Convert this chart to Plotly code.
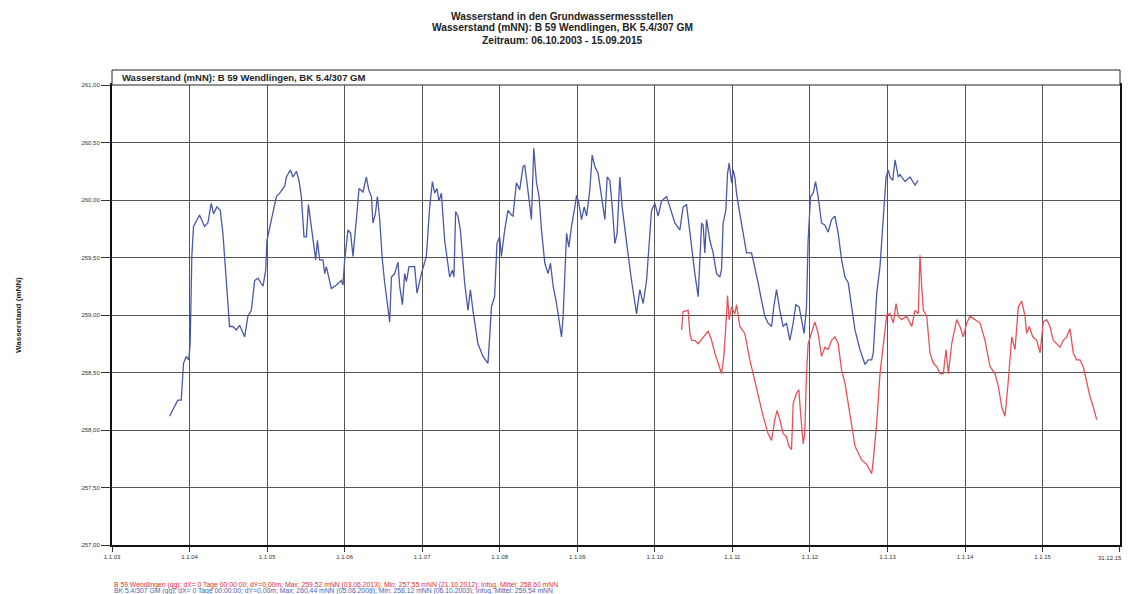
import pandas as pd
import plotly.graph_objects as go

# ---- data (decimal years, water level in mNN) ----
blue_t = [2003.742, 2003.849, 2003.893, 2003.923, 2003.957, 2003.991, 2004.009, 2004.030, 2004.052, 2004.086,
          2004.129, 2004.194, 2004.236, 2004.280, 2004.310, 2004.352, 2004.396, 2004.430, 2004.474, 2004.516,
          2004.559, 2004.603, 2004.645, 2004.710, 2004.752, 2004.796, 2004.839, 2004.881, 2004.946, 2004.981,
          2004.997, 2005.054, 2005.119, 2005.161, 2005.226, 2005.248, 2005.299, 2005.333, 2005.377, 2005.410,
          2005.441, 2005.475, 2005.506, 2005.532, 2005.557, 2005.591, 2005.626, 2005.648, 2005.677, 2005.720,
          2005.742, 2005.764, 2005.806, 2005.828, 2005.893, 2005.957, 2005.978, 2006.000, 2006.043, 2006.077,
          2006.107, 2006.129, 2006.151, 2006.185, 2006.236, 2006.280, 2006.310, 2006.345, 2006.365, 2006.396,
          2006.422, 2006.452, 2006.486, 2006.516, 2006.551, 2006.581, 2006.603, 2006.645, 2006.688, 2006.710,
          2006.745, 2006.774, 2006.796, 2006.830, 2006.903, 2006.933, 2006.990, 2007.054, 2007.097, 2007.132,
          2007.161, 2007.191, 2007.217, 2007.248, 2007.290, 2007.333, 2007.355, 2007.390, 2007.410, 2007.432,
          2007.462, 2007.493, 2007.548, 2007.591, 2007.622, 2007.655, 2007.720, 2007.785, 2007.849, 2007.871,
          2007.893, 2007.935, 2007.965, 2008.000, 2008.022, 2008.065, 2008.107, 2008.151, 2008.172, 2008.215,
          2008.258, 2008.301, 2008.323, 2008.352, 2008.387, 2008.409, 2008.439, 2008.474, 2008.507, 2008.538,
          2008.581, 2008.623, 2008.654, 2008.688, 2008.732, 2008.774, 2008.796, 2008.817, 2008.839, 2008.861,
          2008.890, 2008.925, 2008.968, 2008.990, 2009.019, 2009.054, 2009.088, 2009.119, 2009.161, 2009.191,
          2009.226, 2009.268, 2009.312, 2009.355, 2009.385, 2009.419, 2009.454, 2009.484, 2009.513, 2009.548,
          2009.578, 2009.613, 2009.643, 2009.699, 2009.764, 2009.806, 2009.849, 2009.893, 2009.926, 2009.957,
          2010.000, 2010.043, 2010.086, 2010.151, 2010.194, 2010.258, 2010.323, 2010.365, 2010.409, 2010.443,
          2010.474, 2010.516, 2010.559, 2010.603, 2010.623, 2010.645, 2010.667, 2010.710, 2010.752, 2010.796,
          2010.839, 2010.861, 2010.881, 2010.916, 2010.938, 2010.959, 2010.990, 2011.010, 2011.032, 2011.054,
          2011.097, 2011.139, 2011.183, 2011.248, 2011.290, 2011.333, 2011.376, 2011.419, 2011.461, 2011.506,
          2011.535, 2011.570, 2011.613, 2011.655, 2011.699, 2011.742, 2011.785, 2011.819, 2011.862, 2011.893,
          2011.926, 2011.957, 2011.978, 2012.009, 2012.043, 2012.074, 2012.107, 2012.151, 2012.194, 2012.236,
          2012.280, 2012.323, 2012.365, 2012.409, 2012.452, 2012.494, 2012.538, 2012.581, 2012.645, 2012.710,
          2012.752, 2012.796, 2012.817, 2012.861, 2012.903, 2012.946, 2012.981, 2013.010, 2013.032, 2013.067,
          2013.097, 2013.139, 2013.161, 2013.226, 2013.290, 2013.355, 2013.394]
blue_v = [258.12, 258.26, 258.26, 258.58, 258.64, 258.61, 258.76, 259.51, 259.77, 259.81,
          259.87, 259.77, 259.80, 259.97, 259.88, 259.94, 259.91, 259.71, 259.25, 258.90,
          258.90, 258.87, 258.91, 258.81, 258.99, 259.04, 259.30, 259.32, 259.25, 259.39,
          259.65, 259.83, 260.03, 260.06, 260.12, 260.20, 260.26, 260.20, 260.25, 260.17,
          260.03, 259.68, 259.68, 259.96, 259.83, 259.65, 259.48, 259.65, 259.48, 259.48,
          259.36, 259.42, 259.28, 259.23, 259.26, 259.30, 259.26, 259.48, 259.74, 259.71,
          259.51, 259.65, 259.83, 260.10, 260.07, 260.20, 260.09, 260.03, 259.80, 259.88,
          260.03, 259.83, 259.48, 259.28, 259.07, 258.94, 259.33, 259.36, 259.46, 259.25,
          259.09, 259.36, 259.29, 259.42, 259.42, 259.19, 259.36, 259.51, 259.94, 260.16,
          260.06, 260.10, 259.99, 260.06, 259.65, 259.45, 259.33, 259.39, 259.33, 259.90,
          259.86, 259.74, 259.28, 259.04, 259.22, 259.04, 258.75, 258.64, 258.58, 258.81,
          259.07, 259.16, 259.62, 259.68, 259.51, 259.74, 259.91, 259.87, 259.86, 260.15,
          260.09, 260.29, 260.30, 260.15, 259.94, 259.83, 260.45, 260.15, 260.03, 259.74,
          259.45, 259.36, 259.45, 259.25, 259.10, 258.90, 258.81, 258.99, 259.39, 259.71,
          259.59, 259.77, 259.94, 260.04, 259.97, 259.83, 259.94, 259.86, 260.09, 260.39,
          260.29, 260.23, 260.03, 259.83, 260.20, 260.17, 259.91, 259.62, 259.71, 260.20,
          259.94, 259.77, 259.59, 259.30, 259.01, 259.22, 259.10, 259.30, 259.65, 259.91,
          259.97, 259.86, 259.99, 260.03, 259.94, 259.80, 259.74, 259.94, 259.96, 259.77,
          259.57, 259.36, 259.16, 259.80, 259.78, 259.54, 259.83, 259.65, 259.54, 259.36,
          259.33, 259.40, 259.80, 259.91, 260.23, 260.32, 260.15, 260.26, 260.20, 260.06,
          259.88, 259.71, 259.54, 259.54, 259.42, 259.28, 259.13, 258.99, 258.93, 258.90,
          259.07, 259.22, 259.04, 258.90, 258.93, 258.78, 258.93, 259.09, 259.07, 258.96,
          258.84, 259.07, 259.65, 260.03, 260.06, 260.16, 260.03, 259.80, 259.78, 259.72,
          259.83, 259.86, 259.71, 259.48, 259.33, 259.28, 259.07, 258.87, 258.70, 258.57,
          258.61, 258.61, 258.67, 259.19, 259.42, 259.86, 260.20, 260.26, 260.20, 260.17,
          260.35, 260.20, 260.22, 260.16, 260.20, 260.13, 260.17]

red_t = [2010.345, 2010.365, 2010.430, 2010.452, 2010.474, 2010.516, 2010.559, 2010.623, 2010.688, 2010.732,
         2010.774, 2010.861, 2010.890, 2010.916, 2010.938, 2010.959, 2010.990, 2011.032, 2011.054, 2011.097,
         2011.161, 2011.226, 2011.312, 2011.397, 2011.461, 2011.506, 2011.548, 2011.578, 2011.613, 2011.655,
         2011.699, 2011.729, 2011.764, 2011.785, 2011.828, 2011.858, 2011.884, 2011.914, 2011.935, 2011.957,
         2011.978, 2012.022, 2012.065, 2012.107, 2012.151, 2012.194, 2012.236, 2012.280, 2012.323, 2012.365,
         2012.409, 2012.452, 2012.494, 2012.538, 2012.581, 2012.623, 2012.667, 2012.732, 2012.796, 2012.817,
         2012.861, 2012.903, 2012.946, 2012.990, 2013.032, 2013.075, 2013.110, 2013.139, 2013.183, 2013.248,
         2013.312, 2013.355, 2013.397, 2013.419, 2013.441, 2013.462, 2013.506, 2013.548, 2013.591, 2013.635,
         2013.677, 2013.720, 2013.755, 2013.785, 2013.828, 2013.893, 2013.935, 2013.978, 2014.022, 2014.065,
         2014.129, 2014.194, 2014.258, 2014.323, 2014.387, 2014.430, 2014.474, 2014.516, 2014.559, 2014.603,
         2014.645, 2014.688, 2014.732, 2014.774, 2014.796, 2014.830, 2014.874, 2014.925, 2014.968, 2015.010,
         2015.054, 2015.097, 2015.139, 2015.183, 2015.226, 2015.268, 2015.312, 2015.355, 2015.397, 2015.441,
         2015.484, 2015.526, 2015.570, 2015.613, 2015.655, 2015.699]
red_v = [258.87, 259.03, 259.04, 258.84, 258.78, 258.78, 258.75, 258.81, 258.86, 258.78,
         258.67, 258.49, 258.64, 258.90, 259.17, 258.96, 259.07, 259.01, 259.09, 258.90,
         258.84, 258.61, 258.35, 258.12, 257.97, 257.91, 258.09, 258.17, 258.09, 257.97,
         257.94, 257.86, 257.83, 258.23, 258.32, 258.35, 258.12, 257.88, 257.97, 258.49,
         258.75, 258.84, 258.94, 258.84, 258.64, 258.72, 258.70, 258.78, 258.81, 258.75,
         258.52, 258.41, 258.23, 258.03, 257.86, 257.80, 257.74, 257.70, 257.62, 257.74,
         258.06, 258.49, 258.75, 259.00, 259.01, 258.93, 259.10, 258.99, 258.96, 258.99,
         258.90, 259.04, 259.01, 259.52, 259.25, 259.04, 258.99, 258.67, 258.58, 258.55,
         258.49, 258.49, 258.70, 258.49, 258.75, 258.96, 258.90, 258.81, 258.93, 258.99,
         258.96, 258.93, 258.78, 258.55, 258.49, 258.38, 258.20, 258.12, 258.43, 258.81,
         258.70, 259.07, 259.12, 258.99, 258.84, 258.90, 258.81, 258.78, 258.67, 258.94,
         258.96, 258.90, 258.78, 258.75, 258.72, 258.78, 258.81, 258.88, 258.67, 258.61,
         258.61, 258.55, 258.41, 258.29, 258.20, 258.09]

x_tick_dates = ["2003-01-01", "2004-01-01", "2005-01-01", "2006-01-01", "2007-01-01", "2008-01-01",
                "2009-01-01", "2010-01-01", "2011-01-01", "2012-01-01", "2013-01-01", "2014-01-01",
                "2015-01-01", "2015-12-31"]
x_tick_text = ["1.1.03", "1.1.04", "1.1.05", "1.1.06", "1.1.07", "1.1.08", "1.1.09", "1.1.10",
               "1.1.11", "1.1.12", "1.1.13", "1.1.14", "1.1.15", "31.12.15"]
y_ticks = [257.0, 257.5, 258.0, 258.5, 259.0, 259.5, 260.0, 260.5, 261.0]

title_lines = ["Wasserstand in den Grundwassermessstellen",
               "Wasserstand (mNN): B 59 Wendlingen, BK 5.4/307 GM",
               "Zeitraum: 06.10.2003 - 15.09.2015"]
header_text = "Wasserstand (mNN): B 59 Wendlingen, BK 5.4/307 GM"
y_title = "Wasserstand (mNN)"
footer_red = ("B 59 Wendlingen (qg): dX= 0 Tage 00:00:00; dY=0,00m; Max: 259,52 mNN (03.06.2013); "
              "Min: 257,55 mNN (21.10.2012); Infog. Mittel: 258,60 mNN")
footer_blue = ("BK 5.4/307 GM (qg): dX= 0 Tage 00:00:00; dY=0,00m; Max: 260,44 mNN (05.06.2008); "
               "Min: 258,12 mNN (06.10.2003); Infog. Mittel: 259,54 mNN")


def to_dates(ts):
    out = []
    for t in ts:
        y = int(t)
        start = pd.Timestamp(year=y, month=1, day=1)
        days = (pd.Timestamp(year=y + 1, month=1, day=1) - start).days
        out.append(start + pd.Timedelta(days=(t - y) * days))
    return out


BLUE = "#4a58a6"
RED = "#e5525c"
FONT = "Arial, Liberation Sans, sans-serif"

# page is drawn with an 8px body margin, so the figure is 8px smaller than the window
W, H = 1124, 586
ML, MR, MT, MB = 104, 12, 77, 49
PH = H - MT - MB  # plot height in px
PW = W - ML - MR  # plot width in px

fig = go.Figure()
fig.add_trace(go.Scatter(x=to_dates(blue_t), y=blue_v, mode="lines",
                         line=dict(color=BLUE, width=1.3), name="BK 5.4/307 GM"))
fig.add_trace(go.Scatter(x=to_dates(red_t), y=red_v, mode="lines",
                         line=dict(color=RED, width=1.3), name="B 59 Wendlingen"))

fig.update_layout(
    width=W, height=H,
    margin=dict(l=ML, r=MR, t=MT, b=MB, autoexpand=False),
    paper_bgcolor="white", plot_bgcolor="white",
    showlegend=False,
    separators=",.",
    font=dict(family=FONT, color="#222"),
)
# last tick label is drawn as an annotation so it is not clipped at the right edge
shown_tick_text = x_tick_text[:-1] + [""]
fig.update_xaxes(
    type="date", range=["2003-01-01", "2016-01-01"], automargin=False,
    tickvals=x_tick_dates, ticktext=shown_tick_text,
    tickfont=dict(size=6, color="#333"),
    ticks="outside", ticklen=5, tickcolor="#333",
    showgrid=True, gridcolor="#555", gridwidth=1,
    showline=True, linecolor="#111", linewidth=2, mirror=True,
    zeroline=False,
)
fig.update_yaxes(
    range=[257, 261], tickvals=y_ticks, tickformat=".2f", automargin=False,
    tickfont=dict(size=6, color="#333"),
    ticks="outside", ticklen=9, tickcolor="#333",
    showgrid=True, gridcolor="#555", gridwidth=1,
    showline=True, linecolor="#111", linewidth=2, mirror=True,
    zeroline=False,
)
fig.add_annotation(xref="paper", yref="paper", x=(W - 8 - ML) / PW, y=-13 / PH,
                   xanchor="right", yanchor="middle", text=x_tick_text[-1], showarrow=False,
                   font=dict(size=6, family=FONT, color="#333"))

# title lines (figure-pixel y positions converted to paper coords)
for txt, ypx in zip(title_lines, [8, 20, 32]):
    fig.add_annotation(xref="paper", yref="paper", x=(W / 2 - 8 - ML) / PW,
                       y=1 + (MT - ypx) / PH, xanchor="center", yanchor="middle",
                       text="<b>" + txt + "</b>", showarrow=False,
                       font=dict(size=10.2, family=FONT, color="#222"))

# header box above plot
fig.add_shape(type="rect", xref="paper", yref="paper", x0=0, x1=1, y0=1, y1=1 + 15 / PH,
              line=dict(color="#222", width=1), fillcolor="white")
fig.add_annotation(xref="paper", yref="paper", x=0.008, y=1 + 8 / PH, xanchor="left", yanchor="middle",
                   text="<b>" + header_text + "</b>", showarrow=False,
                   font=dict(size=9.5, family=FONT, color="#222"))

# y axis title
fig.add_annotation(xref="paper", yref="paper", x=(10 - ML) / PW, y=0.5,
                   xanchor="center", yanchor="middle", textangle=-90,
                   text="<b>" + y_title + "</b>", showarrow=False,
                   font=dict(size=8, family=FONT, color="#222"))

# footer texts
fig.add_annotation(xref="paper", yref="paper", x=0, y=-40 / PH, xanchor="left", yanchor="middle",
                   text=footer_red, showarrow=False, font=dict(size=6.8, family=FONT, color="#d8303a"))
fig.add_annotation(xref="paper", yref="paper", x=0, y=-46 / PH, xanchor="left", yanchor="middle",
                   text=footer_blue, showarrow=False, font=dict(size=6.8, family=FONT, color="#5060b0"))

fig.write_html("out.html")
